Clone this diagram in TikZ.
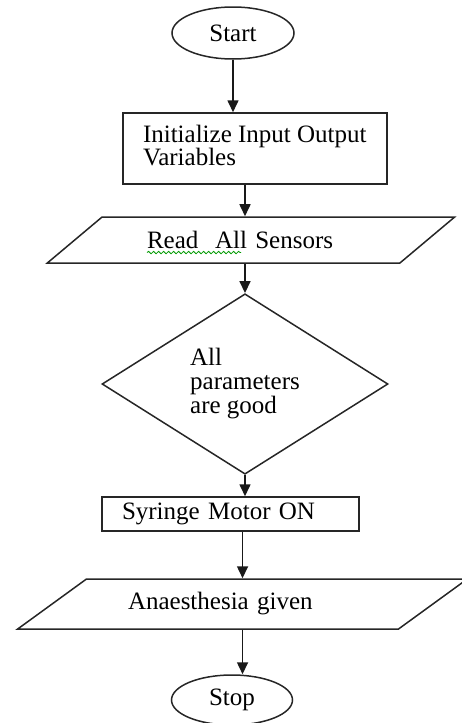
\documentclass[tikz,border=0pt]{standalone}
\usepackage{fontspec}
\setmainfont{Liberation Serif}
\usepackage{xcolor}
\usetikzlibrary{arrows.meta,shapes.geometric,decorations.pathmorphing}

\begin{document}
\begin{tikzpicture}[
      x=1pt, y=-1pt,
      font=\fontsize{25}{22}\selectfont,
      % Reusable styles for the chart symbols
      term/.style={
        draw=black!85,
        line width=1.5pt,
        ellipse,
        inner sep=0pt,
        minimum width=122pt,
        minimum height=52pt
      },
      procbox/.style={
        draw=black!85,
        line width=1.5pt,
        rectangle,
        inner sep=0pt,
        align=left
      },
      io/.style={
        draw=black!85,
        line width=1.5pt,
        trapezium,
        trapezium stretches=true,
        inner sep=0pt,
        align=left
      },
      decision/.style={
        draw=black!85,
        line width=1.5pt,
        diamond,
        inner sep=0pt,
        align=left,
        font=\fontsize{25}{24}\selectfont
      },
      arrow/.style={-{Triangle[width=11pt,length=12pt]}, line width=1.6pt, draw=black!90},
      squiggle/.style={draw=green!60!black, line width=0.8pt, decorate,
        decoration={snake, amplitude=1.2pt, segment length=5pt}}
    ]
    \useasboundingbox (0,0) rectangle (461,723);

    % Nodes placed at the positions of the chart
    \node[term] (start) at (233,33) {Start};
    \node[procbox, minimum width=264pt, minimum height=71pt] (init) at (255,148.5)
      {\parbox[c][71pt][t]{224pt}{\rule{0pt}{29pt}Initialize Input Output\\Variables}};
    \node[io, trapezium left angle=24.7, trapezium right angle=155.3,
          minimum width=408pt, minimum height=46pt, text width=208pt] (read) at (251,240)
      {Read~ All Sensors};
    \node[decision, minimum width=286pt, minimum height=138pt] (check) at (245,384)
      {All\\parameters\\are good};
    \node[procbox, minimum width=257pt, minimum height=34pt, text width=217pt] (motor) at (230.5,514)
      {Syringe Motor ON};
    \node[io, trapezium left angle=24.25, trapezium right angle=155.75,
          minimum width=451pt, minimum height=50pt, text width=229pt] (dose) at (242.5,604)
      {Anaesthesia given};
    \node[term, minimum width=121pt, minimum height=50pt] (stop) at (232,700) {Stop};

    % spell-check wave under the first two words
    \draw[squiggle] ([xshift=-104pt, yshift=-4pt]read.base) -- ++(94,0);

    % Straight down connectors
    \draw[arrow] (start.south) -- (start.south |- init.north);
    \draw[arrow] (init.south -| check.north) -- (read.north -| check.north);
    \draw[arrow] (read.south -| check.north) -- (check.north);
    \draw[arrow] (check.south) -- (check.south |- motor.north);
    \draw[arrow] (dose.north |- motor.south) -- (dose.north);
    \draw[arrow] (dose.south) -- (dose.south |- stop.north);
  \end{tikzpicture}
\end{document}
